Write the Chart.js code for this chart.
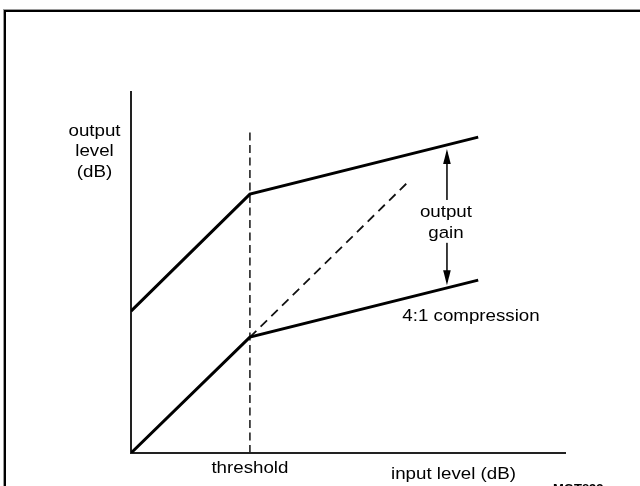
<!DOCTYPE html>
<html>
<head>
<meta charset="utf-8">
<script src="https://cdn.jsdelivr.net/npm/chart.js@4/dist/chart.umd.min.js"></script>
<style>
  html, body { margin: 0; padding: 0; background: #fff; }
  #wrap { width: 640px; height: 486px; overflow: hidden; }
</style>
</head>
<body>
<div id="wrap"><canvas id="c" width="640" height="486"></canvas></div>
<script>
// ---- data (dB units) ----
const inputLevels      = [0, 27.4, 80];        // input level points (start, threshold, end)
const compressedOutput = [0, 32.1, 47.9];      // 4:1 compression curve
const gainOutput       = [39.3, 71.7, 87.5];   // curve with output gain applied
const uncompressedX    = [27.4, 63.6];         // dashed 1:1 continuation
const uncompressedY    = [32.1, 74.8];
const thresholdX       = 27.4;
const thresholdY       = [0, 89.5];
const gainArrowX       = 72.8;
const gainArrowY       = [84.2, 70.1, 58.2, 46.5]; // top tip, shaft break top, shaft break bottom, bottom tip
const xAxisRange       = [0, 100];
const yAxisRange       = [0, 100];
const yAxisTitle       = ['output', 'level', '(dB)'];
const xAxisTitle       = 'input level (dB)';
const thresholdLabel   = 'threshold';
const gainLabel        = ['output', 'gain'];
const compressionLabel = '4:1 compression';
const figureCode       = 'MGT893';

const pts = (xs, ys) => xs.map((x, i) => ({ x: x, y: ys[i] }));

const FONT = '16.3px "Liberation Sans", Arial, sans-serif';
const HS = 1.15; // horizontal stretch of the original lettering

function stretchedText(ctx, text, x, y, align) {
  ctx.save();
  ctx.translate(x, y);
  ctx.scale(HS, 1);
  ctx.textAlign = align || 'center';
  ctx.textBaseline = 'alphabetic';
  ctx.fillText(text, 0, 0);
  ctx.restore();
}

const annotations = {
  id: 'annotations',
  afterDraw(chart) {
    const ctx = chart.ctx;
    const xs = chart.scales.x, ys = chart.scales.y;
    ctx.save();
    // frame
    ctx.strokeStyle = '#9a9a9a';
    ctx.lineWidth = 1;
    ctx.strokeRect(3.5, 9.5, 800, 800);
    ctx.strokeStyle = '#000';
    ctx.lineWidth = 2;
    ctx.strokeRect(5, 11, 800, 800);

    ctx.fillStyle = '#000';
    ctx.font = FONT;
    // y axis title
    const yTitleX = 94.5;
    const yBaselines = [135.7, 156, 176.5];
    yAxisTitle.forEach((t, i) => stretchedText(ctx, t, yTitleX, yBaselines[i]));
    // threshold label
    stretchedText(ctx, thresholdLabel, xs.getPixelForValue(thresholdX), 473);
    // x axis title
    stretchedText(ctx, xAxisTitle, 391, 479, 'left');
    // gain label
    const gx = xs.getPixelForValue(gainArrowX);
    stretchedText(ctx, gainLabel[0], gx - 1, 216.5);
    stretchedText(ctx, gainLabel[1], gx - 1, 238);
    // compression label
    stretchedText(ctx, compressionLabel, 471, 321);

    // arrow heads
    const topTip = ys.getPixelForValue(gainArrowY[0]);
    const botTip = ys.getPixelForValue(gainArrowY[3]);
    ctx.beginPath();
    ctx.moveTo(gx, topTip);
    ctx.lineTo(gx - 3.8, topTip + 15);
    ctx.lineTo(gx + 3.8, topTip + 15);
    ctx.closePath();
    ctx.fill();
    ctx.beginPath();
    ctx.moveTo(gx, botTip);
    ctx.lineTo(gx - 3.8, botTip - 15);
    ctx.lineTo(gx + 3.8, botTip - 15);
    ctx.closePath();
    ctx.fill();

    // figure code (mostly cut off at bottom)
    ctx.font = 'bold 13px "Liberation Sans", Arial, sans-serif';
    ctx.textAlign = 'left';
    ctx.fillText(figureCode, 553, 493);
    ctx.restore();
  }
};

const solid = (data) => ({
  data, showLine: true, borderColor: '#000', borderWidth: 3,
  pointRadius: 0, borderJoinStyle: 'miter', tension: 0, fill: false
});

new Chart(document.getElementById('c'), {
  type: 'scatter',
  data: {
    datasets: [
      solid(pts(inputLevels, compressedOutput)),
      solid(pts(inputLevels, gainOutput)),
      { data: pts(uncompressedX, uncompressedY), showLine: true, borderColor: '#111',
        borderWidth: 1.8, borderDash: [9, 6], pointRadius: 0 },
      { data: pts([thresholdX, thresholdX], thresholdY), showLine: true, borderColor: '#222',
        borderWidth: 1.6, borderDash: [8, 4.5], pointRadius: 0 },
      { data: pts([gainArrowX, gainArrowX], [gainArrowY[0] - 1, gainArrowY[1]]), showLine: true,
        borderColor: '#222', borderWidth: 1, pointRadius: 0 },
      { data: pts([gainArrowX, gainArrowX], [gainArrowY[2], gainArrowY[3] + 1]), showLine: true,
        borderColor: '#222', borderWidth: 1, pointRadius: 0 }
    ]
  },
  options: {
    responsive: false,
    animation: false,
    devicePixelRatio: 1,
    layout: { padding: { left: 131, right: 75, top: 92, bottom: 33 } },
    plugins: { legend: { display: false }, tooltip: { enabled: false } },
    scales: {
      x: {
        type: 'linear', min: xAxisRange[0], max: xAxisRange[1],
        grid: { display: false, drawTicks: false },
        ticks: { display: false },
        border: { display: true, color: '#222', width: 2 }
      },
      y: {
        type: 'linear', min: yAxisRange[0], max: yAxisRange[1],
        grid: { display: false, drawTicks: false },
        ticks: { display: false },
        border: { display: true, color: '#222', width: 2 }
      }
    }
  },
  plugins: [annotations]
});
</script>
</body>
</html>
